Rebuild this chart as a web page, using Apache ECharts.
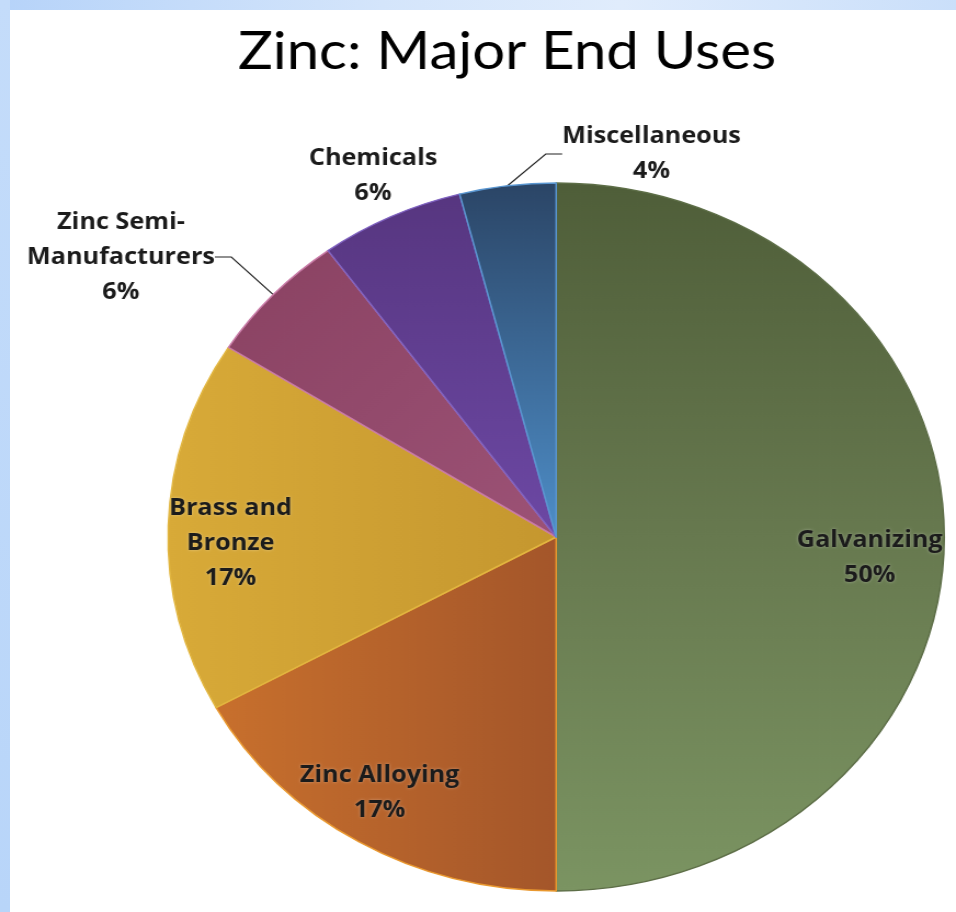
<!DOCTYPE html>
<html>
<head>
<meta charset="utf-8">
<script src="https://cdn.jsdelivr.net/npm/echarts@6/dist/echarts.min.js"></script>
<style>
  html, body { margin:0; padding:0; width:956px; height:912px; overflow:hidden; background:#ffffff; }
  #topband { position:absolute; left:0; top:0; width:956px; height:10px;
    background: linear-gradient(to right, #b6d3f9 0%, #d4e5fb 40%, #e0ecfc 65%, #cadffa 100%); }
  #leftband { position:absolute; left:0; top:0; width:10px; height:912px;
    background: linear-gradient(to bottom, #c4dcfa 0%, #b8d5f9 100%); }
  #main { position:absolute; left:0; top:0; width:872px; height:912px;
    transform: scaleX(1.0963); transform-origin: 0 0; }
</style>
</head>
<body>
<div id="topband"></div>
<div id="leftband"></div>
<div id="main"></div>
<script>
// ---- data ----
const categories = ['Galvanizing', 'Zinc Alloying', 'Brass and Bronze', 'Zinc Semi-Manufacturers', 'Chemicals', 'Miscellaneous'];
const labelNames = ['Galvanizing', 'Zinc Alloying', 'Brass and\nBronze', 'Zinc Semi-\nManufacturers', 'Chemicals', 'Miscellaneous'];
const values = [50, 17, 17, 6, 6, 4];

// ---- styling / layout ----
const G = echarts.graphic.LinearGradient;
const sliceFills = [
  new G(0, 0, 0, 1, [{offset:0, color:'#4f5e39'}, {offset:0.5, color:'#67794f'}, {offset:1, color:'#7b9462'}]),
  new G(0, 0, 1, 0, [{offset:0, color:'#c8702d'}, {offset:1, color:'#a4562a'}]),
  new G(0, 0, 1, 0, [{offset:0, color:'#d8aa38'}, {offset:1, color:'#c5972f'}]),
  new G(0, 0, 1, 1, [{offset:0, color:'#8a4262'}, {offset:1, color:'#9c5276'}]),
  new G(0, 0, 0, 1, [{offset:0, color:'#573680'}, {offset:1, color:'#6c48a4'}]),
  new G(0, 0, 0, 1, [{offset:0, color:'#2b4566'}, {offset:1, color:'#4e8ec8'}])
];
const sliceBorders = ['#5d6e47', '#e9982f', '#e2b640', '#c87aa6', '#7f62c0', '#5a96d0'];
const CX = 507.3, CY = 537, R = 354;
// label centre offsets from pie centre (unscaled px)
const labelOffsets = [[286, 21], [-161, 256], [-297, 6], [-397, -280], [-167, -361], [87, -383]];
const outsideIdx = [3, 5];

const chart = echarts.init(document.getElementById('main'), null, {renderer: 'canvas'});
const option = {
  backgroundColor: 'transparent',
  animation: false,
  title: {
    text: 'Zinc: Major End Uses',
    left: 212,
    top: 20,
    textStyle: { fontFamily: 'Lato', fontSize: 53, fontWeight: 'normal', color: '#000000' }
  },
  series: [{
    type: 'pie',
    center: [CX, CY],
    radius: [0, R],
    startAngle: 90,
    clockwise: true,
    avoidLabelOverlap: false,
    label: {
      formatter: (p) => labelNames[p.dataIndex] + '\n' + p.value + '%',
      fontFamily: 'Open Sans',
      fontWeight: 'bold',
      fontSize: 23,
      lineHeight: 35,
      color: '#1b1b1b',
      align: 'center',
      textShadowColor: 'rgba(255,255,255,0.35)',
      textShadowBlur: 3
    },
    labelLine: { lineStyle: { color: '#222222', width: 1.2 } },
    labelLayout: (params) => {
      const o = labelOffsets[params.dataIndex];
      return { x: CX + o[0], y: CY + o[1], align: 'center', verticalAlign: 'middle' };
    },
    data: categories.map((c, i) => ({
      name: c,
      value: values[i],
      itemStyle: {
        color: sliceFills[i],
        borderColor: sliceBorders[i],
        borderWidth: 1.5
      },
      label: { position: outsideIdx.includes(i) ? 'outside' : 'inside' },
      labelLine: { show: outsideIdx.includes(i), length: 20, length2: 15 }
    }))
  }]
};
chart.setOption(option);
</script>
</body>
</html>
